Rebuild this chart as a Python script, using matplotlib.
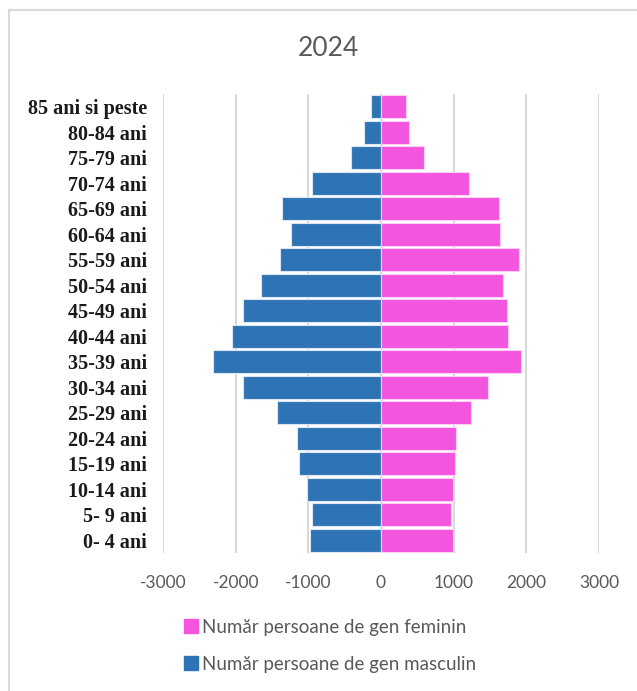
"""
Piramida vârstelor 2024 - număr persoane pe grupe de vârstă și gen.
"""

import matplotlib
matplotlib.use("Agg")
import matplotlib.pyplot as plt
from matplotlib.lines import Line2D
from matplotlib.patches import Patch

TITLE = "2024"

AGE_GROUPS = [
    "0- 4 ani", "5- 9 ani", "10-14 ani", "15-19 ani", "20-24 ani",
    "25-29 ani", "30-34 ani", "35-39 ani", "40-44 ani", "45-49 ani",
    "50-54 ani", "55-59 ani", "60-64 ani", "65-69 ani", "70-74 ani",
    "75-79 ani", "80-84 ani", "85 ani si peste",
]

# valori (masculin negativ)
MALE = [-972, -953, -1014, -1128, -1160, -1435, -1898, -2307, -2050,
        -1898, -1655, -1389, -1238, -1358, -953, -413, -234, -142]
FEMALE = [990, 963, 990, 1018, 1036, 1234, 1472, 1922, 1743,
          1729, 1682, 1894, 1637, 1619, 1215, 596, 385, 340]

X_TICKS = [-3000, -2000, -1000, 0, 1000, 2000, 3000]

LABEL_F = "Număr persoane de gen feminin"
LABEL_M = "Număr persoane de gen masculin"

BLUE = "#2E74B5"
PINK = "#F455DE"
GRID = "#D9D9D9"
TEXT_GREY = "#595959"

W, H = 637, 691


def main():
    fig = plt.figure(figsize=(W / 100, H / 100), dpi=100)
    ax = fig.add_axes([163 / W, 1 - 553 / H, (599 - 163) / W, (553 - 94) / H])

    y = list(range(len(AGE_GROUPS)))
    ax.barh(y, MALE, height=0.9, color=BLUE, edgecolor="#dce6f2", linewidth=0.8, zorder=2)
    ax.barh(y, FEMALE, height=0.9, color=PINK, edgecolor="#fbd0f4", linewidth=0.8, zorder=2)

    ax.set_xlim(-3000, 3000)
    ax.set_ylim(-0.5, len(AGE_GROUPS) - 0.5)
    ax.set_xticks(X_TICKS)
    ax.set_xticklabels([str(v) for v in X_TICKS], family="Lato", fontsize=12.5,
                       color=TEXT_GREY)
    ax.set_yticks(y)
    ax.set_yticklabels(AGE_GROUPS, family="Liberation Serif", fontweight="bold",
                       fontsize=14.5, color="#1a1a1a")
    ax.tick_params(axis="both", length=0)
    ax.tick_params(axis="y", pad=11.5)
    ax.tick_params(axis="x", pad=16)
    for s in ax.spines.values():
        s.set_visible(False)
    ax.grid(axis="x", color=GRID, linewidth=1.5, zorder=0)
    ax.set_axisbelow(True)

    fig.text(328 / W, 1 - 48 / H, TITLE, ha="center", va="center",
             family="Lato", fontsize=19, color=TEXT_GREY)

    # chenarul diagramei (doar stânga și sus vizibile)
    fig.add_artist(Line2D([8.5 / W, 8.5 / W], [0, 1 - 9.5 / H],
                          transform=fig.transFigure, color=GRID, linewidth=1.5))
    fig.add_artist(Line2D([8.5 / W, 1], [1 - 9.5 / H, 1 - 9.5 / H],
                          transform=fig.transFigure, color=GRID, linewidth=1.5))

    handles = [Patch(color=PINK, label=LABEL_F), Patch(color=BLUE, label=LABEL_M)]
    fig.legend(handles=handles, loc="upper left", bbox_to_anchor=(167 / W, 1 - 602 / H),
               frameon=False, handlelength=0.75, handleheight=0.75, handletextpad=0.2,
               labelspacing=1.05, prop={"family": "Lato", "size": 13.5},
               labelcolor=TEXT_GREY)

    fig.savefig("out.png", dpi=100)


if __name__ == "__main__":
    main()
